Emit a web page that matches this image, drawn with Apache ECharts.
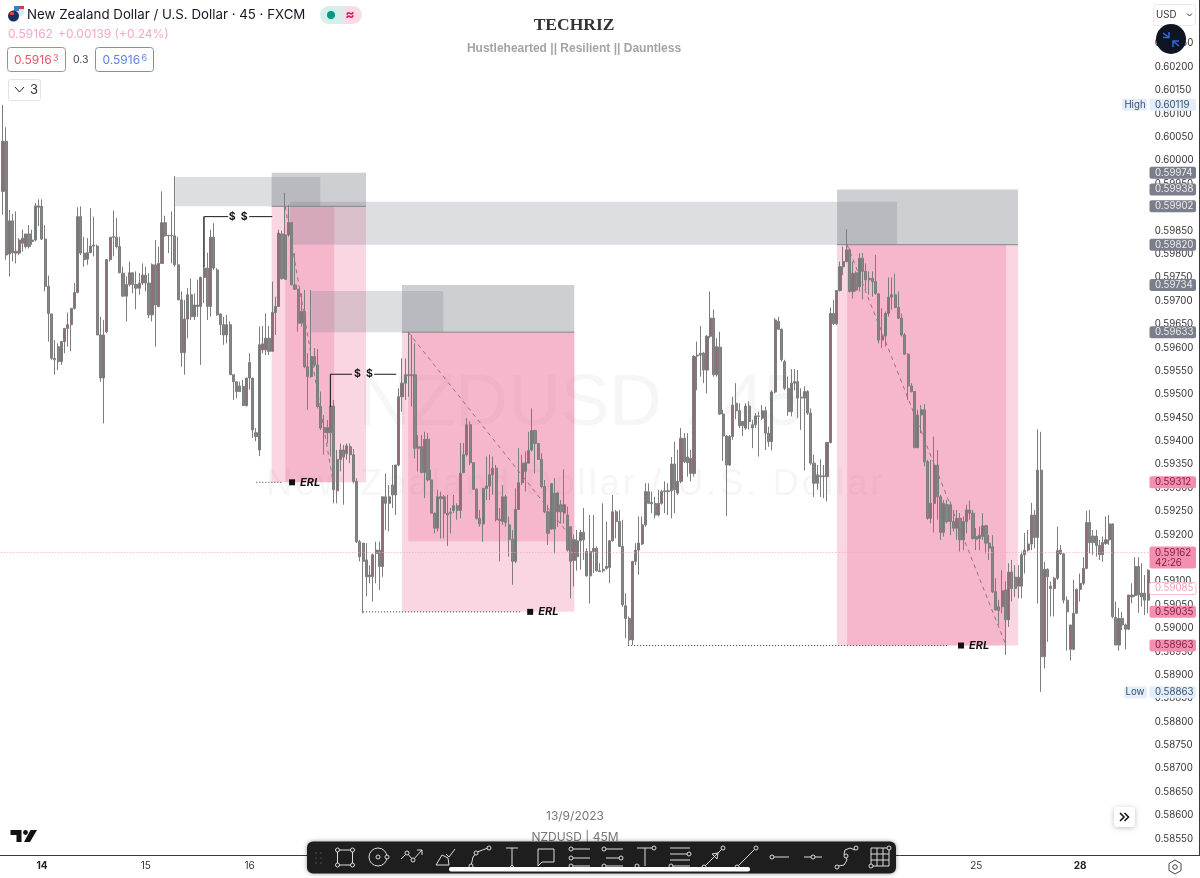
<!DOCTYPE html>
<html>
<head>
<meta charset="utf-8">
<style>html,body{margin:0;padding:0;background:#fff}#c{width:1200px;height:878px}</style>
<script src="https://cdn.jsdelivr.net/npm/echarts@6/dist/echarts.min.js"></script>
</head>
<body>
<div id="c"></div>
<script>
// Candle values in points (1 point = 0.00001)
const highs = [
60119,60071,59894,59886,59891,59834,59852,59843,59862,59852,
59909,59917,59917,59862,59754,59672,59616,59609,59613,59641,
59675,59684,59738,59900,59902,59837,59834,59898,59880,59820,
59666,59659,59788,59836,59893,59877,59837,59773,59752,59784,
59760,59763,59759,59780,59773,59759,59780,59830,59816,59934,
59882,59841,59891,59967,59837,59720,59702,59727,59748,59716,
59745,59752,59880,59803,59852,59866,59770,59673,59666,59670,
59656,59542,59527,59527,59531,59535,59588,59535,59428,59645,
59646,59673,59646,59741,59709,59852,59850,59931,59905,59869,
59802,59725,59716,59723,59588,59723,59599,59597,59506,59456,
59445,59544,59488,59381,59395,59392,59395,59395,59383,59321,
59189,59182,59182,59135,59160,59185,59185,59281,59331,59306,
59349,59349,59513,59577,59577,59634,59627,59609,59413,59413,
59420,59417,59339,59247,59296,59292,59285,59285,59257,59285,
59267,59396,59396,59449,59442,59354,59299,59253,59299,59367,
59371,59367,59349,59257,59306,59285,59239,59210,59299,59385,
59371,59378,59420,59470,59424,59395,59374,59317,59264,59310,
59321,59292,59274,59340,59260,59217,59200,59210,59210,59257,
59171,59242,59242,59175,59139,59267,59228,59189,59285,59253,
59253,59232,59075,59025,59143,59182,59239,59239,59310,59310,
59292,59281,59296,59296,59314,59310,59366,59399,59381,59428,
59417,59417,59381,59584,59613,59646,59591,59627,59720,59681,
59620,59634,59467,59413,59413,59495,59524,59481,59442,59481,
59485,59445,59460,59463,59477,59474,59431,59509,59663,59666,
59641,59574,59538,59554,59554,59552,59513,59517,59509,59470,
59371,59349,59361,59349,59397,59686,59702,59722,59784,59816,
59853,59812,59784,59763,59802,59802,59780,59763,59763,59798,
59716,59684,59677,59750,59750,59758,59720,59673,59631,59588,
59524,59506,59467,59477,59479,59360,59360,59410,59381,59285,
59274,59274,59271,59253,59253,59246,59239,59264,59273,59253,
59214,59217,59246,59221,59199,59199,59107,59060,59124,59100,
59139,59146,59135,59135,59164,59204,59210,59268,59253,59425,
59420,59142,59128,59100,59110,59217,59178,59160,59068,59007,
59103,59085,59117,59152,59251,59253,59210,59210,59189,59196,
59239,59242,59224,59057,59043,59035,59010,59071,59096,59152,
59152,59139,59114,59126];
const opens = [
59934,60041,59800,59871,59802,59802,59823,59816,59843,59827,
59830,59900,59902,59832,59731,59672,59577,59602,59570,59613,
59641,59649,59684,59718,59880,59802,59789,59803,59817,59817,
59627,59535,59634,59788,59836,59836,59816,59759,59710,59735,
59760,59735,59727,59738,59755,59738,59670,59777,59688,59780,
59867,59839,59840,59839,59777,59702,59589,59661,59713,59666,
59691,59688,59750,59770,59688,59836,59766,59672,59649,59627,
59649,59542,59527,59518,59517,59476,59568,59535,59418,59381,
59595,59595,59620,59592,59675,59688,59843,59841,59841,59867,
59734,59725,59652,59677,59559,59538,59581,59563,59474,59429,
59418,59418,59475,59294,59361,59381,59373,59388,59371,59314,
59185,59182,59146,59110,59110,59160,59167,59132,59281,59267,
59306,59285,59349,59495,59524,59542,59542,59542,59385,59388,
59333,59404,59317,59246,59214,59281,59281,59246,59246,59252,
59262,59252,59333,59371,59435,59354,59297,59235,59223,59299,
59304,59328,59342,59233,59228,59281,59221,59190,59143,59254,
59311,59335,59353,59381,59423,59395,59361,59303,59249,59212,
59289,59249,59264,59246,59242,59217,59145,59153,59187,59205,
59164,59112,59164,59171,59123,59123,59128,59130,59187,59249,
59228,59175,59048,59021,58975,59143,59167,59180,59221,59292,
59266,59267,59242,59267,59292,59294,59294,59351,59289,59314,
59406,59366,59331,59331,59582,59584,59588,59552,59624,59663,
59542,59601,59458,59411,59349,59410,59481,59465,59442,59428,
59475,59435,59435,59454,59449,59465,59417,59399,59505,59656,
59639,59570,59513,59463,59524,59527,59494,59492,59506,59460,
59353,59328,59326,59324,59324,59397,59673,59651,59722,59773,
59784,59809,59720,59760,59730,59791,59763,59748,59748,59741,
59715,59616,59625,59673,59708,59713,59686,59663,59627,59586,
59518,59506,59386,59456,59467,59356,59235,59267,59349,59281,
59205,59264,59264,59228,59214,59235,59189,59228,59253,59246,
59196,59192,59196,59219,59182,59174,59078,59046,59046,59082,
59018,59120,59109,59090,59090,59157,59167,59180,59242,59194,
59338,58939,59126,59090,59085,59107,59167,59159,59060,58955,
58955,59032,59083,59096,59128,59226,59197,59197,59177,59157,
59181,59189,59223,59023,58964,59021,59007,58998,59071,59070,
59132,59075,59075,59060];
const closes = [
60041,59798,59871,59803,59806,59830,59834,59843,59816,59830,
59903,59903,59832,59731,59673,59577,59574,59570,59613,59641,
59649,59684,59718,59880,59802,59788,59803,59817,59819,59627,
59535,59627,59788,59836,59837,59816,59760,59710,59735,59760,
59735,59727,59738,59755,59738,59670,59777,59691,59780,59867,
59839,59840,59839,59777,59702,59589,59661,59713,59666,59691,
59688,59750,59770,59688,59836,59770,59670,59649,59627,59649,
59542,59527,59506,59506,59476,59535,59535,59424,59410,59606,
59608,59620,59592,59675,59688,59845,59748,59746,59867,59734,
59725,59652,59677,59559,59538,59581,59563,59474,59428,59418,
59429,59475,59296,59361,59381,59366,59390,59371,59314,59185,
59153,59143,59110,59114,59157,59167,59132,59281,59267,59281,
59285,59349,59495,59524,59542,59540,59540,59385,59388,59333,
59404,59317,59246,59214,59281,59277,59246,59242,59248,59262,
59252,59331,59371,59435,59354,59297,59235,59223,59299,59304,
59328,59342,59232,59230,59281,59226,59190,59143,59254,59311,
59353,59354,59380,59423,59395,59361,59303,59249,59203,59309,
59212,59289,59249,59264,59167,59143,59189,59187,59205,59189,
59112,59164,59171,59123,59121,59126,59132,59187,59249,59228,
59175,59050,59021,58975,59143,59167,59182,59221,59292,59267,
59269,59242,59267,59292,59294,59292,59351,59296,59314,59406,
59356,59354,59363,59581,59584,59588,59552,59624,59663,59542,
59602,59458,59411,59349,59410,59477,59465,59433,59433,59475,
59442,59428,59454,59453,59465,59417,59399,59505,59659,59639,
59574,59513,59463,59524,59527,59492,59492,59506,59460,59353,
59310,59310,59324,59326,59397,59673,59651,59722,59773,59784,
59809,59720,59759,59723,59791,59763,59745,59745,59741,59716,
59616,59625,59673,59708,59713,59686,59663,59627,59586,59518,
59506,59386,59456,59467,59356,59235,59267,59349,59281,59205,
59267,59228,59228,59214,59235,59189,59228,59253,59246,59192,
59190,59199,59219,59182,59171,59078,59039,59038,59080,59018,
59120,59085,59085,59109,59157,59167,59180,59242,59194,59338,
58939,59126,59110,59085,59107,59166,59159,59060,59035,59007,
59032,59083,59096,59128,59226,59183,59183,59177,59157,59183,
59189,59223,59025,58964,59021,59007,58998,59071,59067,59132,
59071,59067,59060,59124];
const lows = [
59884,59788,59752,59784,59780,59798,59805,59812,59812,59820,
59827,59860,59830,59720,59613,59574,59542,59552,59563,59588,
59602,59592,59681,59716,59798,59773,59777,59802,59795,59627,
59527,59438,59631,59784,59795,59812,59759,59709,59656,59731,
59716,59682,59713,59734,59720,59663,59656,59602,59688,59780,
59837,59802,59780,59773,59702,59559,59542,59620,59659,59659,
59666,59563,59695,59659,59666,59766,59668,59627,59606,59609,
59542,59488,59492,59506,59475,59474,59510,59407,59400,59368,
59588,59584,59584,59592,59627,59688,59745,59746,59837,59734,
59723,59634,59645,59556,59467,59535,59559,59470,59424,59371,
59395,59367,59267,59267,59335,59264,59360,59353,59310,59182,
59143,59032,59068,59096,59057,59096,59082,59110,59210,59207,
59257,59242,59346,59463,59488,59495,59474,59363,59335,59331,
59278,59314,59246,59203,59207,59192,59192,59176,59203,59246,
59232,59235,59331,59367,59349,59296,59232,59217,59185,59274,
59274,59285,59228,59143,59221,59217,59153,59093,59139,59253,
59306,59292,59353,59378,59331,59360,59299,59246,59178,59210,
59160,59217,59224,59224,59164,59064,59089,59123,59125,59146,
59110,59053,59118,59121,59121,59119,59125,59096,59185,59192,
59175,59046,58979,58964,58964,59135,59114,59178,59217,59266,
59246,59235,59239,59264,59246,59242,59235,59246,59285,59310,
59353,59324,59314,59324,59509,59538,59524,59502,59620,59538,
59538,59456,59358,59240,59347,59403,59447,59428,59411,59424,
59425,59385,59428,59367,59445,59381,59388,59380,59502,59638,
59570,59509,59454,59453,59509,59449,59424,59337,59456,59349,
59281,59296,59281,59278,59271,59395,59648,59648,59720,59755,
59782,59718,59705,59720,59720,59703,59723,59713,59709,59713,
59609,59599,59602,59666,59681,59684,59661,59624,59584,59488,
59504,59385,59385,59417,59346,59232,59224,59205,59232,59189,
59196,59224,59199,59207,59189,59164,59167,59203,59232,59189,
59167,59167,59189,59160,59146,59075,59039,59007,59032,58943,
59003,59057,59067,59064,59064,59117,59164,59167,59171,59053,
58864,58914,58971,59025,59025,59103,59157,59053,58952,58931,
58953,59032,59057,59092,59126,59160,59157,59153,59146,59142,
59178,59178,59021,58964,58952,58996,58955,58996,59053,59067,
59033,59046,59028,59032];

const dayIndex = [12, 44, 76, 300, 332];
const dayLabels = ['14', '15', '16', '25', '28'];
const boldDays = ['14', '28'];
const priceMin = 0.5855, priceMax = 0.6030, priceStep = 0.0005;

// Annotations: [start bar, end bar, top price, bottom price, kind]
const zones = [
  [83.3, 112.4, 0.59902, 0.59312, 'pink'], [87.5, 102.6, 0.59902, 0.59312, 'pink'],
  [123.5, 176.6, 0.59633, 0.59035, 'pink'], [125.4, 176.6, 0.59633, 0.59186, 'pink'],
  [257.6, 313.4, 0.59820, 0.58963, 'pink'], [260.7, 309.7, 0.59820, 0.58963, 'pink'],
  [53.6, 98.3, 0.59965, 0.59902, 'light'], [83.3, 112.4, 0.59974, 0.59902, 'dark'],
  [89, 276.1, 0.59912, 0.59820, 'light'], [257.6, 313.4, 0.59938, 0.59820, 'dark'],
  [95.5, 136.2, 0.59721, 0.59633, 'light'], [123.5, 176.6, 0.59734, 0.59633, 'dark']
];
// Lines: [bar1, price1, bar2, price2, kind]
const segments = [
  [83.3, 0.59902, 112.4, 0.59902, 'edge'], [257.6, 0.59820, 313.4, 0.59820, 'edge'], [123.5, 0.59633, 176.6, 0.59633, 'edge'],
  [87.5, 0.59902, 102.3, 0.59312, 'dash'], [125.4, 0.59633, 176.6, 0.59186, 'dash'], [260.7, 0.59820, 309.7, 0.58963, 'dash'],
  [62.5, 0.59880, 69.9, 0.59880, 'solid'], [76.4, 0.59880, 83.5, 0.59880, 'solid'], [62.5, 0.59880, 62.5, 0.59772, 'solid'],
  [101.4, 0.59543, 108.1, 0.59543, 'solid'], [114.9, 0.59543, 121.7, 0.59543, 'solid'], [101.4, 0.59543, 101.4, 0.59473, 'solid'],
  [78.6, 0.59312, 86.6, 0.59312, 'dot'], [111.5, 0.59035, 159.9, 0.59035, 'dot'], [193.2, 0.58963, 291.8, 0.58963, 'dot'],
  [0, 0.59162, 354, 0.59162, 'last']
];
const dollarNotes = [[73, 0.59880], [111.6, 0.59543]];
const erlNotes = [[89.6, 0.59312], [163, 0.59035], [295.8, 0.58963]];
// Price tags on the scale
const tags = [
  ['0.59974', 'gray'], ['0.59938', 'gray'], ['0.59902', 'gray'], ['0.59820', 'gray'], ['0.59734', 'gray'], ['0.59633', 'gray'],
  ['0.59312', 'pink'], ['0.59035', 'pink'], ['0.58963', 'pink'], ['0.59085', 'outline'],
  ['0.60119', 'blue'], ['0.58863', 'blue']
];

const cats = highs.map(() => '');
dayIndex.forEach((d, k) => { cats[d] = dayLabels[k]; });
const catData = cats.map(c => boldDays.includes(c) ? { value: c, textStyle: { fontWeight: 'bold', color: '#222' } } : c);
const candles = highs.map((h, i) => [opens[i] / 1e5, closes[i] / 1e5, lows[i] / 1e5, h / 1e5]);

const zoneFill = { pink: 'rgba(235,85,135,0.24)', light: 'rgba(120,123,134,0.25)', dark: 'rgba(120,123,134,0.36)' };
const lineStyles = {
  edge: { stroke: '#85868c', lineWidth: 1 },
  dash: { stroke: '#8d7683', lineWidth: 1, lineDash: [4, 4] },
  solid: { stroke: '#1a1a1a', lineWidth: 1 },
  dot: { stroke: '#333', lineWidth: 1, lineDash: [1, 2] },
  last: { stroke: '#f6a3bb', lineWidth: 1, lineDash: [1, 2] }
};
const tagStyle = {
  gray: { bg: '#7b7e8b', fg: '#eceded', border: null },
  pink: { bg: '#f58fb0', fg: '#7c2145', border: null },
  outline: { bg: '#fff', fg: '#f2a0bb', border: '#f7bcd0' },
  blue: { bg: '#e4eefa', fg: '#34506f', border: null }
};
const UI = 'Inter, "Liberation Sans", sans-serif';
const TAG_FONT = '9.7px ' + UI;

function zoneItem(params, api) {
  const z = zones[params.dataIndex];
  const a = api.coord([z[0], z[2]]), b = api.coord([z[1], z[3]]);
  return { type: 'rect', shape: { x: a[0], y: a[1], width: b[0] - a[0], height: b[1] - a[1] }, style: { fill: zoneFill[z[4]] } };
}
function segItem(params, api) {
  const s = segments[params.dataIndex];
  const a = api.coord([s[0], s[1]]), b = api.coord([s[2], s[3]]);
  return { type: 'line', shape: { x1: a[0], y1: a[1], x2: b[0], y2: b[1] }, style: Object.assign({ fill: null }, lineStyles[s[4]]) };
}
function dollarItem(params, api) {
  const n = dollarNotes[params.dataIndex], p = api.coord(n);
  return { type: 'text', x: p[0], y: p[1], style: { text: '$  $', font: 'bold 10.5px ' + UI, fill: '#111', align: 'center', verticalAlign: 'middle' } };
}
function erlItem(params, api) {
  const n = erlNotes[params.dataIndex], p = api.coord(n);
  return { type: 'group', children: [
    { type: 'rect', shape: { x: p[0] - 3, y: p[1] - 3, width: 6, height: 6 }, style: { fill: '#111' } },
    { type: 'text', x: p[0] + 8, y: p[1], style: { text: 'ERL', font: 'italic bold 11px ' + UI, fill: '#111', align: 'left', verticalAlign: 'middle' } }
  ] };
}
function tagItem(params, api) {
  const t = tags[params.dataIndex], s = tagStyle[t[1]];
  const y = api.coord([0, parseFloat(t[0])])[1];
  const kids = [
    { type: 'rect', shape: { x: 1149.5, y: y - 6, width: 46.5, height: 12, r: 2 }, style: { fill: s.bg, stroke: s.border, lineWidth: 1 } },
    { type: 'text', x: 1155, y: y, style: { text: t[0], font: TAG_FONT, fill: s.fg, align: 'left', verticalAlign: 'middle' } }
  ];
  if (t[1] === 'blue') {
    const word = t[0] === '0.60119' ? 'High' : 'Low';
    kids.unshift({ type: 'rect', shape: { x: word === 'High' ? 1122 : 1124, y: y - 6, width: word === 'High' ? 25 : 23, height: 12, r: 2 }, style: { fill: s.bg } });
    kids.push({ type: 'text', x: 1135, y: y, style: { text: word, font: '9.7px ' + UI, fill: s.fg, align: 'center', verticalAlign: 'middle' } });
  }
  return { type: 'group', children: kids };
}
function customSeries(z, list, toData, renderItem) {
  return { type: 'custom', z: z, xAxisIndex: 1, yAxisIndex: 0, silent: true, clip: false, animation: false,
    encode: { x: 0, y: 1 }, data: list.map(toData), renderItem: renderItem };
}

// --- page chrome ---
const T = (x, y, text, font, fill, align, z) => ({ type: 'text', x: x, y: y, z: z === undefined ? 50 : z, silent: true,
  style: { text: text, font: font, fill: fill, align: align || 'left', verticalAlign: 'middle' } });
const box = (x, y, w, h, r, fill, stroke, z, shadow) => ({ type: 'rect', z: z === undefined ? 50 : z, silent: true,
  shape: { x: x, y: y, width: w, height: h, r: r },
  style: Object.assign({ fill: fill, stroke: stroke || null, lineWidth: 1 }, shadow || {}) });
const TOOL = '#dcdcdc';
const pl = (pts, z, col) => ({ type: 'polyline', z: z || 102, silent: true, shape: { points: pts }, style: { stroke: col || TOOL, lineWidth: 1, fill: null } });
const dot = (x, y, r, z) => ({ type: 'circle', z: z || 103, silent: true, shape: { cx: x, cy: y, r: r || 2 }, style: { stroke: TOOL, lineWidth: 1, fill: '#1e1e1e' } });
const toolY = 858;
const ic = {
  345: c => [box(c - 7.5, toolY - 8, 15, 15, 0, null, TOOL, 102), dot(c - 7.5, toolY - 8), dot(c + 7.5, toolY - 8), dot(c - 7.5, toolY + 7), dot(c + 7.5, toolY + 7)],
  379: c => [{ type: 'circle', z: 102, silent: true, shape: { cx: c - 1, cy: toolY - 1, r: 9 }, style: { stroke: TOOL, fill: null } }, dot(c - 1, toolY - 1), dot(c + 8, toolY - 1)],
  412: c => [pl([[c - 11, toolY + 1], [c - 5, toolY - 5], [c + 1, toolY + 2], [c + 10, toolY - 8]]), pl([[c + 5, toolY - 8], [c + 10, toolY - 8], [c + 10, toolY - 3]]), dot(c - 5, toolY - 5), dot(c + 1, toolY + 2)],
  447: c => [pl([[c - 11, toolY + 7], [c - 5, toolY - 3], [c + 1, toolY], [c + 2, toolY + 7], [c - 11, toolY + 7]]), pl([[c - 1, toolY - 4], [c + 2, toolY - 1], [c + 8, toolY - 9]])],
  480: c => [pl([[c - 9, toolY + 8], [c - 7, toolY - 1], [c - 3, toolY - 6], [c + 8, toolY - 10]]), dot(c - 9, toolY + 8), dot(c - 4, toolY - 5), dot(c + 9, toolY - 10)],
  512: c => [pl([[c - 6, toolY - 10], [c + 6, toolY - 10]]), pl([[c, toolY - 10], [c, toolY + 8]]), dot(c, toolY + 9, 1.5)],
  546: c => [pl([[c - 8, toolY - 9], [c + 8, toolY - 9], [c + 8, toolY + 4], [c - 4, toolY + 4], [c - 8, toolY + 8], [c - 8, toolY - 9]])],
  579: c => [pl([[c - 6, toolY - 9], [c + 11, toolY - 9]]), pl([[c - 6, toolY], [c + 11, toolY]]), pl([[c - 10, toolY + 8], [c + 11, toolY + 8]]), dot(c - 8, toolY - 9), dot(c - 8, toolY), dot(c - 8, toolY + 8)],
  612: c => [pl([[c - 6, toolY - 9], [c + 11, toolY - 9]]), pl([[c - 6, toolY], [c + 11, toolY]]), pl([[c - 10, toolY + 8], [c + 11, toolY + 8]]), dot(c - 8, toolY - 9), dot(c + 9, toolY), dot(c - 8, toolY + 8)],
  646: c => [pl([[c - 9, toolY - 10], [c + 6, toolY - 10]]), pl([[c - 1, toolY - 10], [c - 1, toolY + 8]]), dot(c + 8, toolY - 10), dot(c - 9, toolY + 8)],
  680: c => [pl([[c - 10, toolY - 10], [c + 10, toolY - 10]]), pl([[c - 10, toolY - 4], [c + 10, toolY - 4]]), pl([[c - 10, toolY + 2], [c + 10, toolY + 2]]), pl([[c - 10, toolY + 8], [c + 10, toolY + 8]]), dot(c + 9, toolY - 4), dot(c - 9, toolY + 8)],
  714: c => [pl([[c - 9, toolY + 8], [c + 8, toolY - 9]]), dot(c - 10, toolY + 9), dot(c + 9, toolY - 10), pl([[c - 2, toolY - 4], [c + 4, toolY - 5], [c + 3, toolY + 1], [c - 2, toolY - 4]])],
  747: c => [pl([[c - 9, toolY + 8], [c + 8, toolY - 9]]), dot(c - 10, toolY + 9), dot(c + 9, toolY - 10)],
  780: c => [pl([[c - 6, toolY - 1], [c + 9, toolY - 1]]), dot(c - 8, toolY - 1)],
  813: c => [pl([[c - 9, toolY - 1], [c + 9, toolY - 1]]), dot(c, toolY - 1)],
  847: c => [pl([[c - 9, toolY + 8], [c - 3, toolY + 7], [c, toolY + 2], [c - 3, toolY - 4], [c - 2, toolY - 8], [c + 3, toolY - 10], [c + 8, toolY - 8]]), dot(c - 10, toolY + 9), dot(c - 1, toolY - 2), dot(c + 9, toolY - 10)],
  880: c => [box(c - 9, toolY - 10, 18, 18, 0, null, TOOL, 102), pl([[c - 3, toolY - 10], [c - 3, toolY + 8]]), pl([[c + 3, toolY - 10], [c + 3, toolY + 8]]), pl([[c - 9, toolY - 4], [c + 9, toolY - 4]]), pl([[c - 9, toolY + 2], [c + 9, toolY + 2]]), dot(c - 9, toolY + 8), dot(c + 9, toolY - 10)]
};
let toolIcons = [];
Object.keys(ic).forEach(k => { toolIcons = toolIcons.concat(ic[k](+k)); });
[[316, 853], [321, 853], [316, 858], [321, 858], [316, 863], [321, 863]].forEach(p => {
  toolIcons.push({ type: 'circle', z: 101, silent: true, shape: { cx: p[0], cy: p[1], r: 0.8 }, style: { fill: '#555' } });
});

// Letter-spaced faint watermark line: one text element per glyph
function spacedText(text, font, x, y, gap, fill, z) {
  const ctx = document.createElement('canvas').getContext('2d');
  ctx.font = font;
  const out = [];
  let cx = x;
  for (const ch of text) {
    out.push(T(cx, y, ch, font, fill, 'left', z));
    cx += ctx.measureText(ch).width + gap;
  }
  return out;
}

const graphics = [
  T(581, 405, 'NZDUSD , 45', '73px "Liberation Sans"', '#f6f6f6', 'center', -1),
  // frame
  { type: 'line', z: 40, silent: true, shape: { x1: 0, y1: 855.5, x2: 1199.5, y2: 855.5 }, style: { stroke: '#3a3a3a', lineWidth: 1 } },
  { type: 'line', z: 40, silent: true, shape: { x1: 1199.5, y1: 0, x2: 1199.5, y2: 856 }, style: { stroke: '#3a3a3a', lineWidth: 1 } },
  // flag + header
  { type: 'circle', z: 51, silent: true, shape: { cx: 19, cy: 11, r: 5.5 }, style: { fill: '#d9e6f7' } },
  { type: 'rect', z: 51, silent: true, shape: { x: 16, y: 6, width: 8, height: 3 }, style: { fill: '#c8414f' } },
  { type: 'rect', z: 51, silent: true, shape: { x: 14, y: 6, width: 5, height: 5 }, style: { fill: '#3f78d0' } },
  { type: 'circle', z: 52, silent: true, shape: { cx: 13.5, cy: 16, r: 5.5 }, style: { fill: '#18305f' } },
  { type: 'rect', z: 53, silent: true, shape: { x: 10, y: 12, width: 4, height: 3 }, style: { fill: '#d8434f' } },
  T(27, 15, 'New Zealand Dollar / U.S. Dollar · 45 · FXCM', '13.3px ' + UI, '#131722'),
  box(320, 6, 42, 18, 9, { type: 'linear', x: 0, y: 0, x2: 1, y2: 0, colorStops: [{ offset: 0, color: '#d7efeb' }, { offset: 0.5, color: '#d7efeb' }, { offset: 0.62, color: '#fbdce6' }, { offset: 1, color: '#fbdce6' }] }),
  { type: 'circle', z: 51, silent: true, shape: { cx: 331, cy: 15, r: 4 }, style: { fill: '#089981' } },
  T(350, 15, '≈', 'bold 14px ' + UI, '#d81b60', 'center'),
  T(8, 34, '0.59162', '12px ' + UI, '#f2aac2'),
  T(58, 34, '+0.00139 (+0.24%)', '12px ' + UI, '#f2aac2'),
  box(7.5, 47.5, 58, 24, 3, '#fff', '#e57083'),
  T(14, 60, '0.5916', '12px ' + UI, '#ee5368'), T(53, 58, '3', '9px ' + UI, '#ee5368'),
  T(73, 60, '0.3', '10.5px ' + UI, '#444'),
  box(95.5, 47.5, 58, 24, 3, '#fff', '#6a8fe0'),
  T(102.5, 60, '0.5916', '12px ' + UI, '#5f84dc'), T(141.5, 58, '6', '9px ' + UI, '#5f84dc'),
  box(8.5, 79.5, 32, 21, 2, '#fff', '#e0e3eb'),
  pl([[15, 87], [19.5, 92], [24, 87]], 51, '#222'),
  T(30, 90, '3', '13px ' + UI, '#333'),
  // title
  T(574, 25, 'TECHRIZ', 'bold 17.5px "Liberation Serif"', '#333', 'center'),
  T(574, 49, 'Hustlehearted || Resilient || Dauntless', 'bold 12px "Liberation Sans"', '#a4a4a6', 'center'),
  // top right controls
  box(1153.5, 4.5, 42, 21, 3, '#fff', '#e6e8ee', 60),
  T(1156, 15, 'USD', '9.7px ' + UI, '#333', 'left', 61),
  { type: 'polyline', z: 61, silent: true, shape: { points: [[1187, 13.5], [1189.5, 16], [1192, 13.5]] }, style: { stroke: '#333', fill: null } },
  { type: 'circle', z: 60, silent: true, shape: { cx: 1171, cy: 39, r: 15 }, style: { fill: '#0f1422' } },
  { type: 'polyline', z: 61, silent: true, shape: { points: [[1163, 33], [1169, 37.5]] }, style: { stroke: '#3366ee', lineWidth: 1.5, fill: null } },
  { type: 'polyline', z: 61, silent: true, shape: { points: [[1169, 32], [1169, 37.5], [1163, 37.5]] }, style: { stroke: '#3366ee', lineWidth: 1.5, fill: null } },
  { type: 'polyline', z: 61, silent: true, shape: { points: [[1179, 46], [1173, 41]] }, style: { stroke: '#3366ee', lineWidth: 1.5, fill: null } },
  { type: 'polyline', z: 61, silent: true, shape: { points: [[1173, 47], [1173, 41], [1179, 41]] }, style: { stroke: '#3366ee', lineWidth: 1.5, fill: null } },
  // current price box
  box(1149.5, 546.5, 46.5, 22, 2, '#f58fb0', null, 20),
  T(1155, 553, '0.59162', TAG_FONT, '#7c2145', 'left', 21),
  T(1155, 563, '42:26', TAG_FONT, '#7c2145', 'left', 21),
  // footer
  T(575, 816, '13/9/2023', '12px ' + UI, '#777', 'center'),
  T(575, 837, 'NZDUSD | 45M', '12px ' + UI, '#777', 'center'),
  { type: 'polygon', z: 50, silent: true, shape: { points: [[10.5, 830], [21.5, 830], [21.5, 842], [16.5, 842], [16.5, 835], [10.5, 835]] }, style: { fill: '#111' } },
  { type: 'circle', z: 50, silent: true, shape: { cx: 25.5, cy: 832.5, r: 2.4 }, style: { fill: '#111' } },
  { type: 'polygon', z: 50, silent: true, shape: { points: [[30.5, 830], [37, 830], [30, 842], [24, 842]] }, style: { fill: '#111' } },
  box(1114, 807, 21, 20, 3, '#fff', null, 50, { shadowBlur: 5, shadowColor: 'rgba(0,0,0,0.25)', shadowOffsetY: 1 }),
  { type: 'polyline', z: 51, silent: true, shape: { points: [[1120, 813], [1124, 817], [1120, 821]] }, style: { stroke: '#111', lineWidth: 1.5, fill: null } },
  { type: 'polyline', z: 51, silent: true, shape: { points: [[1124.5, 813], [1128.5, 817], [1124.5, 821]] }, style: { stroke: '#111', lineWidth: 1.5, fill: null } },
  { type: 'polygon', z: 50, silent: true, shape: { points: [[1175, 860], [1181, 863.5], [1181, 870.5], [1175, 874], [1169, 870.5], [1169, 863.5]] }, style: { stroke: '#444', fill: '#fff', lineWidth: 1 } },
  { type: 'circle', z: 51, silent: true, shape: { cx: 1175, cy: 867, r: 2.3 }, style: { stroke: '#444', fill: '#fff' } },
  // toolbar
  box(307, 841.5, 589, 32, 6, '#1e1e1e', null, 100, { shadowBlur: 4, shadowColor: 'rgba(0,0,0,0.4)' }),
  box(449, 867, 301, 4.5, 2, '#fff', null, 104)
].concat(toolIcons, spacedText('New Zealand Dollar / U.S. Dollar', '36px "Liberation Sans"', 266, 485, 3.1, '#f6f6f6', -1));

const chart = echarts.init(document.getElementById('c'), null, { renderer: 'canvas', width: 1200, height: 878 });
chart.setOption({
  animation: false,
  backgroundColor: '#fff',
  grid: { left: 1.1, right: 50.2, top: 20.2, height: 818.5 },
  xAxis: [
    { type: 'category', data: catData, position: 'bottom', offset: 17, boundaryGap: true,
      axisLine: { show: false }, axisTick: { show: false }, splitLine: { show: false },
      axisLabel: { interval: 0, margin: 5, fontFamily: 'Inter', fontSize: 10, color: '#333' } },
    { type: 'value', min: 0, max: 354, show: false, splitLine: { show: false } }
  ],
  yAxis: { type: 'value', position: 'right', min: priceMin, max: priceMax, interval: priceStep, scale: true,
    axisLine: { show: false }, axisTick: { show: false }, splitLine: { show: false },
    axisLabel: { margin: 5, fontFamily: 'Inter', fontSize: 9.7, color: '#333', formatter: v => v.toFixed(5) } },
  graphic: { elements: graphics },
  series: [
    customSeries(1, zones, z => [z[0], z[2]], zoneItem),
    { type: 'candlestick', z: 2, xAxisIndex: 0, yAxisIndex: 0, data: candles, barWidth: 2.6, silent: true, large: false,
      itemStyle: { color: '#8d6c7c', color0: '#868686', borderColor: '#7d7d7d', borderColor0: '#7d7d7d', borderWidth: 1 } },
    customSeries(3, segments, s => [s[0], s[1]], segItem),
    customSeries(3, dollarNotes, n => n, dollarItem),
    customSeries(3, erlNotes, n => n, erlItem),
    customSeries(5, tags, t => [0, parseFloat(t[0])], tagItem)
  ]
});
</script>
</body>
</html>
